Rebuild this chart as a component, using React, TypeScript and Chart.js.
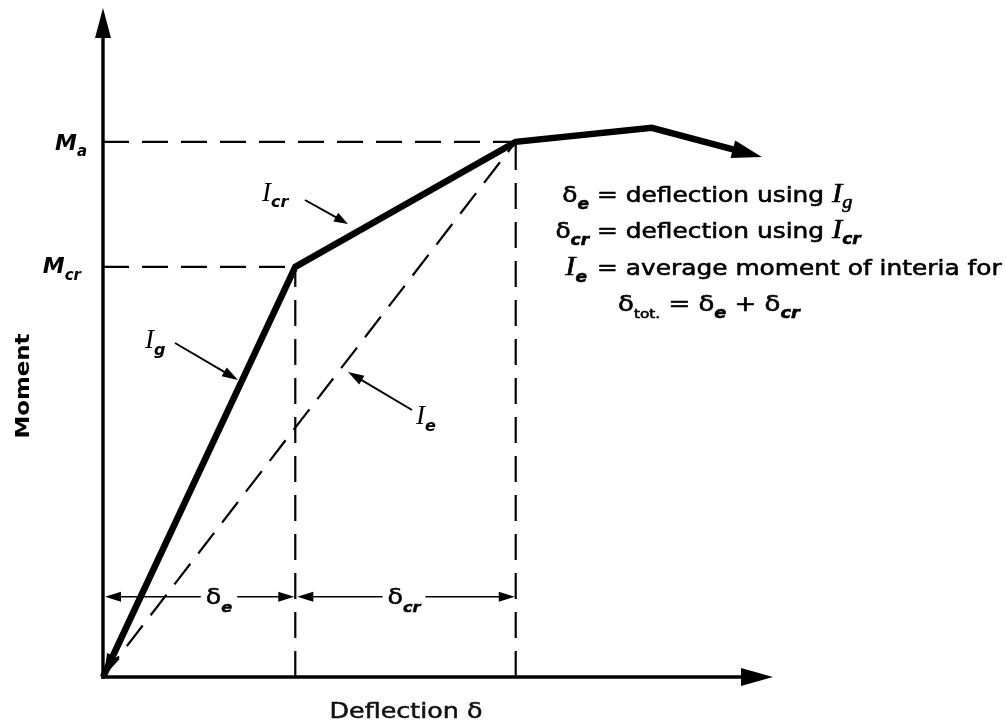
import React, { useEffect, useRef } from "react";
import { Chart, registerables } from "chart.js";

Chart.register(...registerables);

// ---- data (arbitrary units, deflection 0..100, moment 0..100) ----
const curveDeflection = [0, 28.7, 61.6, 81.9, 94.3];
const curveMoment = [0, 61.3, 80.0, 82.1, 78.8];
const secantDeflection = [0, 61.6];
const secantMoment = [0, 80.0];
const momentLevels = [61.3, 80.0]; // M_cr, M_a
const deflectionLevels = [28.7, 61.6]; // δe, δe + δcr
const dimensionMoment = 12.0; // height of dimension arrows
const xLabel = "Deflection δ";
const yLabel = "Moment";

type Part = { t: string; f: string; dy?: number };

const SANS = '"DejaVu Sans"';
const BODY = `22px ${SANS}`;
const SUB = `italic bold 15px ${SANS}`;
const ISERIF = `italic 27px "Liberation Serif"`;
const SUBSERIF = `italic 18px "Liberation Serif"`;
const MFONT = `italic bold 22px ${SANS}`;

function richWidth(ctx: CanvasRenderingContext2D, parts: Part[]) {
  let w = 0;
  for (const p of parts) {
    ctx.font = p.f;
    w += ctx.measureText(p.t).width;
  }
  return w;
}

function drawRich(
  ctx: CanvasRenderingContext2D,
  parts: Part[],
  x: number,
  y: number,
  align: "left" | "right" | "center",
  sx = 1,
  stroke = 0
) {
  const w = richWidth(ctx, parts) * sx;
  const start = align === "left" ? x : align === "right" ? x - w : x - w / 2;
  ctx.save();
  ctx.translate(start, y);
  ctx.scale(sx, 1);
  ctx.textAlign = "left";
  ctx.textBaseline = "alphabetic";
  ctx.lineWidth = stroke;
  ctx.lineJoin = "round";
  let cx = 0;
  for (const p of parts) {
    ctx.font = p.f;
    ctx.fillText(p.t, cx, p.dy || 0);
    if (stroke > 0) ctx.strokeText(p.t, cx, p.dy || 0);
    cx += ctx.measureText(p.t).width;
  }
  ctx.restore();
  return { start, w };
}

function arrowHead(
  ctx: CanvasRenderingContext2D,
  tx: number,
  ty: number,
  ang: number,
  len: number,
  half: number
) {
  const c = Math.cos(ang),
    s = Math.sin(ang);
  const bx = tx - len * c,
    by = ty - len * s;
  ctx.beginPath();
  ctx.moveTo(tx, ty);
  ctx.lineTo(bx - half * s, by + half * c);
  ctx.lineTo(bx + half * s, by - half * c);
  ctx.closePath();
  ctx.fill();
}

function line(ctx: CanvasRenderingContext2D, x1: number, y1: number, x2: number, y2: number) {
  ctx.beginPath();
  ctx.moveTo(x1, y1);
  ctx.lineTo(x2, y2);
  ctx.stroke();
}

function arrow(
  ctx: CanvasRenderingContext2D,
  x1: number,
  y1: number,
  x2: number,
  y2: number,
  len: number,
  half: number
) {
  const ang = Math.atan2(y2 - y1, x2 - x1);
  line(ctx, x1, y1, x2 - (len - 2) * Math.cos(ang), y2 - (len - 2) * Math.sin(ang));
  arrowHead(ctx, x2, y2, ang, len, half);
}

const overlay = {
  id: "overlay",
  afterDraw(chart: any) {
    const ctx: CanvasRenderingContext2D = chart.ctx;
    const xs = chart.scales.x,
      ys = chart.scales.y;
    const px = (v: number) => xs.getPixelForValue(v);
    const py = (v: number) => ys.getPixelForValue(v);
    ctx.save();
    ctx.fillStyle = "#000";
    ctx.strokeStyle = "#000";
    ctx.lineCap = "butt";

    const x0 = px(0),
      y0 = py(0);
    // axes
    ctx.lineWidth = 3.4;
    line(ctx, x0, y0 + 1.7, x0, py(100) + 26);
    arrowHead(ctx, x0, py(100), -Math.PI / 2, 30, 8);
    line(ctx, x0 - 1.7, y0, px(100) - 28, y0);
    arrowHead(ctx, px(100), y0, 0, 32, 9);

    // curve arrowheads
    const n = curveDeflection.length;
    const ex = px(curveDeflection[n - 1]),
      ey = py(curveMoment[n - 1]);
    const qx = px(curveDeflection[n - 2]),
      qy = py(curveMoment[n - 2]);
    const ang = Math.atan2(ey - qy, ex - qx);
    arrowHead(ctx, ex + 28 * Math.cos(ang), ey + 28 * Math.sin(ang), ang, 30, 9);
    const sx0 = px(curveDeflection[0]),
      sy0 = py(curveMoment[0]);
    const s1x = px(curveDeflection[1]),
      s1y = py(curveMoment[1]);
    arrowHead(ctx, sx0 + 1, sy0 - 1, Math.atan2(sy0 - s1y, sx0 - s1x), 22, 7);

    // dimension arrows
    const dy = py(dimensionMoment);
    const d1 = px(deflectionLevels[0]),
      d2 = px(deflectionLevels[1]);
    ctx.lineWidth = 1.6;
    line(ctx, x0 + 12, dy, d1 - 12, dy);
    line(ctx, d1 + 12, dy, d2 - 12, dy);
    arrowHead(ctx, x0 + 2, dy, Math.PI, 16, 5);
    arrowHead(ctx, d1 - 1, dy, 0, 16, 5);
    arrowHead(ctx, d1 + 2, dy, Math.PI, 16, 5);
    arrowHead(ctx, d2 - 1, dy, 0, 16, 5);
    const dimText = (cx: number, sub: string) => {
      const parts: Part[] = [
        { t: "δ", f: BODY },
        { t: sub, f: `italic bold 14px ${SANS}`, dy: 8 },
      ];
      const w = richWidth(ctx, parts) * 1.15;
      ctx.fillStyle = "#fff";
      ctx.fillRect(cx - w / 2 - 5, dy - 4, w + 10, 8);
      ctx.fillStyle = "#000";
      drawRich(ctx, parts, cx, dy + 7, "center", 1.15, 0.5);
    };
    dimText(219, "e");
    dimText(404, "cr");

    // M labels
    drawRich(ctx, [{ t: "M", f: MFONT }, { t: "a", f: SUB, dy: 6 }], x0 - 16, py(momentLevels[1]) + 8, "right", 1);
    drawRich(ctx, [{ t: "M", f: MFONT }, { t: "cr", f: SUB, dy: 7 }], x0 - 22, py(momentLevels[0]) + 6, "right", 1);

    // member labels with arrows
    ctx.lineWidth = 2;
    drawRich(ctx, [{ t: "I", f: ISERIF }, { t: "cr", f: `italic bold 16px ${SANS}`, dy: 6 }], 262, 201, "left", 1);
    arrow(ctx, 305, 200, 348, 224, 14, 5);
    drawRich(ctx, [{ t: "I", f: ISERIF }, { t: "g", f: `italic bold 16px ${SANS}`, dy: 7 }], 145, 348, "left", 1);
    arrow(ctx, 175, 343, 238, 380, 16, 5);
    drawRich(ctx, [{ t: "I", f: ISERIF }, { t: "e", f: `italic bold 16px ${SANS}`, dy: 7 }], 416, 424, "left", 1);
    arrow(ctx, 412, 410, 348, 372, 16, 5);

    // legend text block
    const SX = 1.13;
    const ST = 0.6;
    const eqX = 597;
    const rows = [202, 238, 275, 311];
    drawRich(ctx, [{ t: "δ", f: BODY }, { t: "e", f: SUB, dy: 7 }], eqX - 8, rows[0], "right", SX, ST);
    drawRich(ctx, [{ t: "= deflection using ", f: BODY }, { t: "I", f: ISERIF }, { t: "g", f: SUBSERIF, dy: 6 }], eqX, rows[0], "left", SX, ST);
    drawRich(ctx, [{ t: "δ", f: BODY }, { t: "cr", f: SUB, dy: 7 }], eqX - 8, rows[1], "right", SX, ST);
    drawRich(ctx, [{ t: "= deflection using ", f: BODY }, { t: "I", f: ISERIF }, { t: "cr", f: SUB, dy: 6 }], eqX, rows[1], "left", SX, ST);
    drawRich(ctx, [{ t: "I", f: ISERIF }, { t: "e", f: SUB, dy: 7 }], eqX - 10, rows[2], "right", SX, ST);
    drawRich(ctx, [{ t: "= average moment of interia for", f: BODY }], eqX, rows[2], "left", SX, ST);
    drawRich(
      ctx,
      [
        { t: "δ", f: BODY },
        { t: "tot.", f: `13px ${SANS}`, dy: 7 },
        { t: " = δ", f: BODY },
        { t: "e", f: SUB, dy: 7 },
        { t: " + δ", f: BODY },
        { t: "cr", f: SUB, dy: 7 },
      ],
      618,
      rows[3],
      "left",
      1.18,
      ST
    );

    // axis titles
    ctx.save();
    ctx.translate(29, 386);
    ctx.rotate(-Math.PI / 2);
    ctx.font = `bold 20px ${SANS}`;
    const mw = ctx.measureText(yLabel).width;
    ctx.scale(105 / mw, 1);
    ctx.textAlign = "center";
    ctx.fillText(yLabel, 0, 0);
    ctx.restore();

    ctx.save();
    ctx.font = `21px ${SANS}`;
    const dw = ctx.measureText(xLabel).width;
    ctx.translate(406, 718);
    ctx.scale(153 / dw, 1);
    ctx.textAlign = "center";
    ctx.fillStyle = "#111";
    ctx.strokeStyle = "#111";
    ctx.lineWidth = 0.5;
    ctx.fillText(xLabel, 0, 0);
    ctx.strokeText(xLabel, 0, 0);
    ctx.restore();

    ctx.restore();
  },
};

const DASH = [26, 13];

function pts(xs: number[], ys: number[]) {
  return xs.map((x, i) => ({ x, y: ys[i] }));
}

export default function App() {
  const ref = useRef<HTMLCanvasElement>(null);
  useEffect(() => {
    document.body.style.margin = "0";
    const guide = (data: { x: number; y: number }[]) => ({
      data,
      showLine: true,
      borderColor: "#000",
      borderWidth: 2.2,
      borderDash: DASH,
      pointRadius: 0,
      clip: false as any,
      fill: false,
    });
    const chart = new Chart(ref.current!, {
      type: "scatter",
      data: {
        datasets: [
          guide([{ x: 0, y: momentLevels[0] }, { x: deflectionLevels[0], y: momentLevels[0] }]),
          guide([{ x: 0, y: momentLevels[1] }, { x: deflectionLevels[1], y: momentLevels[1] }]),
          guide([{ x: deflectionLevels[0], y: 0 }, { x: deflectionLevels[0], y: momentLevels[0] }]),
          guide([{ x: deflectionLevels[1], y: 0 }, { x: deflectionLevels[1], y: momentLevels[1] }]),
          guide(pts(secantDeflection, secantMoment)),
          {
            data: pts(curveDeflection, curveMoment),
            showLine: true,
            borderColor: "#000",
            borderWidth: 6.5,
            borderJoinStyle: "miter",
            pointRadius: 0,
            clip: false as any,
            fill: false,
          } as any,
        ],
      },
      options: {
        responsive: false,
        animation: false,
        devicePixelRatio: 1,
        layout: { padding: { left: 103, right: 233, top: 8, bottom: 48 } },
        scales: {
          x: { type: "linear", min: 0, max: 100, display: false },
          y: { type: "linear", min: 0, max: 100, display: false },
        },
        plugins: { legend: { display: false }, tooltip: { enabled: false } },
        events: [],
      },
      plugins: [overlay],
    });
    return () => chart.destroy();
  }, []);
  return (
    <div style={{ width: 1006, height: 725, background: "#fff" }}>
      <canvas ref={ref} width={1006} height={725} style={{ display: "block" }} />
    </div>
  );
}
